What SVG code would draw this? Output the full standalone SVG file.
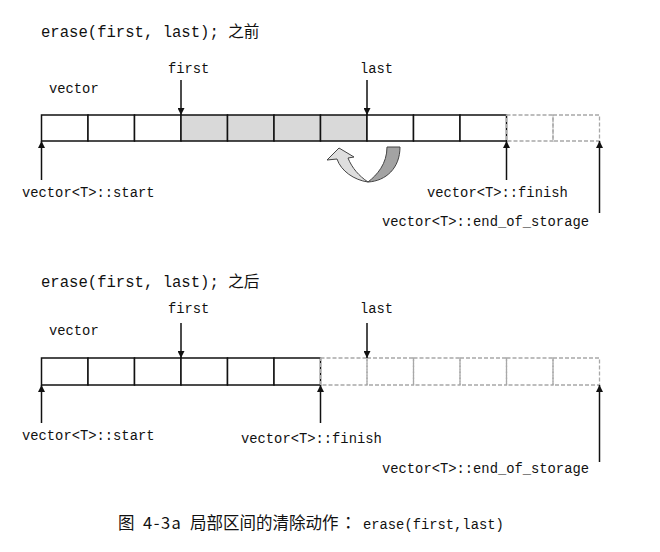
<svg xmlns="http://www.w3.org/2000/svg" width="660" height="552" viewBox="0 0 660 552">
<defs>
<style>
.mono{font-family:"Liberation Mono","DejaVu Sans Mono","Noto Sans CJK SC",monospace;fill:#111;}
.t{font-size:15.6px;}
.s{font-size:13.8px;}
.cjk{font-family:"Noto Sans CJK SC","Noto Sans",sans-serif;fill:#111;}
.cap{font-size:16.5px;}
.cell{fill:#fff;stroke:#111;stroke-width:1.5;}
.shade{fill:#d9d9d9;stroke:#111;stroke-width:1.5;}
.dash{fill:none;stroke:#a8a8a8;stroke-width:1.3;stroke-dasharray:4 2;}
.arr{stroke:#111;stroke-width:1.5;fill:none;marker-end:url(#ah);}
</style>
<marker id="ah" viewBox="0 0 10 10" refX="10" refY="5" markerWidth="7" markerHeight="7" markerUnits="userSpaceOnUse" orient="auto">
<path d="M0,0 L10,5 L0,10 Z" fill="#111"/>
</marker>
</defs>

<g id="title-before">
<text class="mono t" x="41" y="37">erase(first, last); <tspan class="cjk">之前</tspan></text>
</g>

<g id="vector-before">
<text class="mono s" x="49" y="93">vector</text>
<rect class="cell" x="41.5" y="115" width="46.5" height="26"/>
<rect class="cell" x="88" y="115" width="46.5" height="26"/>
<rect class="cell" x="134.5" y="115" width="46.5" height="26"/>
<rect class="shade" x="181" y="115" width="46.5" height="26"/>
<rect class="shade" x="227.5" y="115" width="46.5" height="26"/>
<rect class="shade" x="274" y="115" width="46.5" height="26"/>
<rect class="shade" x="320.5" y="115" width="46.5" height="26"/>
<rect class="cell" x="367" y="115" width="46.5" height="26"/>
<rect class="cell" x="413.5" y="115" width="46.5" height="26"/>
<rect class="cell" x="460" y="115" width="46.5" height="26"/>
<rect class="dash" x="506.5" y="115" width="46.5" height="26"/>
<rect class="dash" x="553" y="115" width="46.5" height="26"/>
</g>

<g id="move-arrow">
<path d="M400,147 C400,168 386,181 368,182 C377,175 387,164 387,147 Z" fill="#a3a3a3" stroke="#444" stroke-width="1"/>
<path d="M368,182 C354,180 341,171 337,159 L327,160 L339,148 L354,157 L348,158 C352,168 359,176 368,182 Z" fill="#dedede" stroke="#444" stroke-width="1"/>
</g>

<g id="labels-before">
<text class="mono s" x="168" y="73">first</text>
<text class="mono s" x="360" y="73">last</text>
<text class="mono s" x="22" y="197">vector&lt;T&gt;::start</text>
<text class="mono s" x="427" y="197">vector&lt;T&gt;::finish</text>
<text class="mono s" x="382" y="226">vector&lt;T&gt;::end_of_storage</text>
</g>

<g id="title-after">
<text class="mono t" x="41" y="287">erase(first, last); <tspan class="cjk">之后</tspan></text>
</g>

<g id="vector-after">
<text class="mono s" x="49" y="335">vector</text>
<rect class="cell" x="41.5" y="358" width="46.5" height="27"/>
<rect class="cell" x="88" y="358" width="46.5" height="27"/>
<rect class="cell" x="134.5" y="358" width="46.5" height="27"/>
<rect class="cell" x="181" y="358" width="46.5" height="27"/>
<rect class="cell" x="227.5" y="358" width="46.5" height="27"/>
<rect class="cell" x="274" y="358" width="46.5" height="27"/>
<rect class="dash" x="320.5" y="358" width="46.5" height="27"/>
<rect class="dash" x="367" y="358" width="46.5" height="27"/>
<rect class="dash" x="413.5" y="358" width="46.5" height="27"/>
<rect class="dash" x="460" y="358" width="46.5" height="27"/>
<rect class="dash" x="506.5" y="358" width="46.5" height="27"/>
<rect class="dash" x="553" y="358" width="46.5" height="27"/>
</g>

<g id="labels-after">
<text class="mono s" x="168" y="313">first</text>
<text class="mono s" x="360" y="313">last</text>
<text class="mono s" x="22" y="440">vector&lt;T&gt;::start</text>
<text class="mono s" x="241" y="443">vector&lt;T&gt;::finish</text>
<text class="mono s" x="382" y="473">vector&lt;T&gt;::end_of_storage</text>
</g>

<g id="connectors">
<line class="arr" x1="181" y1="80" x2="181" y2="115"/>
<line class="arr" x1="367" y1="80" x2="367" y2="115"/>
<line class="arr" x1="41.5" y1="180" x2="41.5" y2="141"/>
<line class="arr" x1="506.5" y1="180" x2="506.5" y2="141"/>
<line class="arr" x1="599.5" y1="213" x2="599.5" y2="141"/>
<line class="arr" x1="181" y1="323" x2="181" y2="358"/>
<line class="arr" x1="367" y1="323" x2="367" y2="358"/>
<line class="arr" x1="41.5" y1="423" x2="41.5" y2="385"/>
<line class="arr" x1="320.5" y1="423" x2="320.5" y2="385"/>
<line class="arr" x1="599.5" y1="462" x2="599.5" y2="385"/>
</g>

<g id="caption">
<text class="cjk cap" y="529"><tspan x="118">图</tspan><tspan x="143" letter-spacing="1.5">4-3a</tspan><tspan x="190">局部区间的清除动作</tspan><tspan x="340" font-family="Noto Sans CJK TC, sans-serif">：</tspan><tspan x="363" class="mono" font-size="13.8">erase(first,last)</tspan></text>
</g>
</svg>
